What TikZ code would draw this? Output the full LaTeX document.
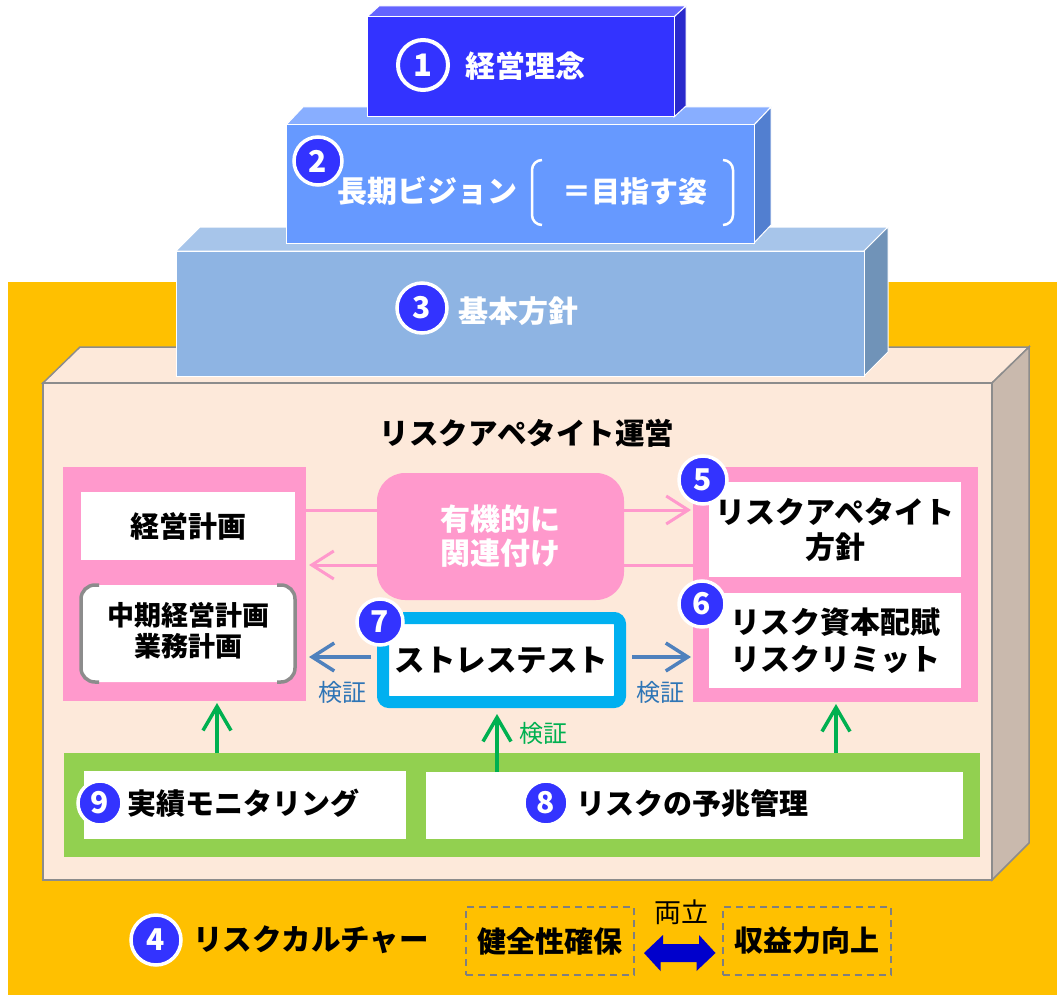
\documentclass[tikz,border=0pt]{standalone}
\usepackage{fontspec}
\setmainfont{Noto Sans CJK JP}
\usetikzlibrary{arrows.meta}
\definecolor{nblue}{HTML}{3333FF}
\definecolor{b1top}{HTML}{6464FF}
\definecolor{b1side}{HTML}{2929CC}
\definecolor{b2front}{HTML}{6699FF}
\definecolor{b2top}{HTML}{88AEFF}
\definecolor{b2side}{HTML}{527FD0}
\definecolor{b3front}{HTML}{8EB4E3}
\definecolor{b3top}{HTML}{A7C5EA}
\definecolor{b3side}{HTML}{7093B8}
\definecolor{orangebg}{HTML}{FFC000}
\definecolor{peach}{HTML}{FDE9DA}
\definecolor{peachside}{HTML}{C9B9AD}
\definecolor{edgegray}{HTML}{8C8C8C}
\definecolor{pinkc}{HTML}{FF99CC}
\definecolor{cyanc}{HTML}{00B0F0}
\definecolor{greenbox}{HTML}{92D050}
\definecolor{greenarr}{HTML}{00B050}
\definecolor{steel}{HTML}{4F81BD}
\definecolor{lblue}{HTML}{2E75B6}
\definecolor{dashgray}{HTML}{7F7F7F}
\definecolor{dblue}{HTML}{0000CC}
\begin{document}
\begin{tikzpicture}[x=1pt,y=-1pt,
  plain/.style={draw=none,inner sep=0pt,outer sep=0pt},
  wbox/.style={plain,fill=white},
  numc/.style={circle,fill=nblue,draw=white,line width=3.5pt,inner sep=0pt,minimum size=#1,text=white,font=\bfseries\fontsize{30}{30}\selectfont},
  jt/.style={inner sep=0pt,font=\bfseries\fontsize{30}{36}\selectfont,align=center},
  kensho/.style={inner sep=0pt,font=\fontsize{24}{24}\selectfont},
  pinkarr/.style={draw=pinkc,line width=3pt,-{Straight Barb[length=22pt,width=28pt,line width=3pt]}},
  bluearr/.style={draw=steel,line width=3.5pt,-{Straight Barb[length=22pt,width=28pt,line width=3.5pt]}},
  greenarrow/.style={draw=greenarr,line width=3.5pt,-{Straight Barb[length=24pt,width=28pt,line width=3.5pt]}},
  dbox/.style={draw=dashgray,line width=2pt,dash pattern=on 7pt off 5pt,inner sep=0pt,minimum width=168pt,minimum height=68pt,font=\bfseries\fontsize{29}{29}\selectfont},
  edge/.style={draw=white,line width=1pt}
]
\useasboundingbox (0,0) rectangle (1057,995);
\fill[white] (0,0) rectangle (1057,995);
\fill[orangebg] (8,282) rectangle (1057,995);

% big peach box
\filldraw[fill=peach,draw=edgegray,line width=1.5pt] (43,383) -- (80,347) -- (1029,347) -- (992,383) -- cycle;
\filldraw[fill=peachside,draw=edgegray,line width=1.5pt] (992,383) -- (1029,347) -- (1029,843) -- (992,880) -- cycle;
\filldraw[fill=peach,draw=edgegray,line width=1.5pt] (43,383) rectangle (992,880);

% block 3
\filldraw[fill=b3top,edge] (176,251) -- (200,227) -- (888,227) -- (864,251) -- cycle;
\filldraw[fill=b3side,edge] (864,251) -- (888,227) -- (888,352) -- (864,376) -- cycle;
\filldraw[fill=b3front,edge] (176,251) rectangle (864,376);
% block 2
\filldraw[fill=b2top,edge] (286,125) -- (303,107) -- (771,107) -- (754,125) -- cycle;
\filldraw[fill=b2side,edge] (754,125) -- (771,107) -- (771,225) -- (754,243) -- cycle;
\filldraw[fill=b2front,edge] (286,125) rectangle (754,243);
% block 1
\filldraw[fill=b1top,edge] (367,17) -- (379,6) -- (686,6) -- (674,17) -- cycle;
\filldraw[fill=b1side,edge] (674,17) -- (686,6) -- (686,106) -- (674,117) -- cycle;
\filldraw[fill=nblue,edge] (367,17) rectangle (674,117);

% block texts
\node[circle,draw=white,line width=4pt,minimum size=50pt,inner sep=0pt,text=white,font=\bfseries\fontsize{31}{31}\selectfont] (c1) at (423,65) {1};
\node[jt,text=white,anchor=west] (t1) at (465,66) {経営理念};
\node[numc=48pt] (c2) at (318,161) {2};
\node[jt,text=white,anchor=west] (t2) at (337,191) {長期ビジョン};
\node[plain,minimum width=201pt,minimum height=65pt] (br) at (632.5,192.5) {};
\draw[white,line width=2.5pt,rounded corners=10pt] ([xshift=10pt]br.north west) -- (br.north west) -- (br.south west) -- ([xshift=10pt]br.south west);
\draw[white,line width=2.5pt,rounded corners=10pt] ([xshift=-10pt]br.north east) -- (br.north east) -- (br.south east) -- ([xshift=-10pt]br.south east);
\node[jt,text=white,anchor=west,font=\bfseries\fontsize{29}{29}\selectfont] (t2b) at (562,191) {＝目指す姿};
\node[numc=50pt] (c3) at (422,308) {3};
\node[jt,text=white,anchor=west] (t3) at (458,311) {基本方針};

% title
\node[jt,font=\bfseries\fontsize{29.5}{29.5}\selectfont] (title) at (527,433) {リスクアペタイト運営};

% left pink group
\node[plain,fill=pinkc,minimum width=243pt,minimum height=234pt] (lp) at (184.5,584) {};
\node[wbox,minimum width=214pt,minimum height=68pt,jt,font=\bfseries\fontsize{29}{29}\selectfont] (kk) at (188,526) {経営計画};
\node[plain,fill=white,rounded corners=14pt,minimum width=214pt,minimum height=97pt] (ck) at (188,633.5) {};
\draw[edgegray,line width=3.5pt,rounded corners=14pt] ([xshift=18pt]ck.north west) -- (ck.north west) -- (ck.south west) -- ([xshift=18pt]ck.south west);
\draw[edgegray,line width=3.5pt,rounded corners=14pt] ([xshift=-18pt]ck.north east) -- (ck.north east) -- (ck.south east) -- ([xshift=-18pt]ck.south east);
\node[jt,font=\bfseries\fontsize{27}{31}\selectfont] (ckt) at (188,631) {中期経営計画\\業務計画};

% right pink group
\node[plain,fill=pinkc,minimum width=285pt,minimum height=235pt] (rp) at (835.5,584.5) {};
\node[wbox,minimum width=252pt,minimum height=95pt] (b5) at (835,529.5) {};
\node[jt,font=\bfseries\fontsize{30}{35}\selectfont] (t5) at (835,530) {リスクアペタイト\\方針};
\node[wbox,minimum width=252pt,minimum height=95pt] (b6) at (835,640.5) {};
\node[jt,font=\bfseries\fontsize{30}{37}\selectfont] (t6) at (835,641) {リスク資本配賦\\リスクリミット};
\node[numc=48pt] (c5) at (703,480) {5};
\node[numc=46pt] (c6) at (702,604) {6};

% pink connectors
\coordinate (ya) at (0,510);
\coordinate (yb) at (0,565);
\draw[pinkarr] (lp.east |- ya) -- ([xshift=-2pt]rp.west |- ya);
\draw[pinkarr] (rp.west |- yb) -- ([xshift=3pt]lp.east |- yb);

% organic box
\node[plain,fill=pinkc,rounded corners=28pt,minimum width=247pt,minimum height=127pt,jt,text=white,font=\bfseries\fontsize{30}{34}\selectfont] (og) at (500.5,536.5) {有機的に\\関連付け};

% stress test
\node[draw=cyanc,fill=white,line width=12pt,rounded corners=6pt,minimum width=237pt,minimum height=84pt,inner sep=0pt,font=\bfseries\fontsize{30.5}{30.5}\selectfont] (st) at (501.5,660) {ストレステスト};
\node[numc=46pt] (c7) at (380,622) {7};

% blue connectors
\coordinate (yc) at (0,657);
\draw[bluearr] ([xshift=-6pt]st.west |- yc) -- ([xshift=3pt]lp.east |- yc);
\draw[bluearr] ([xshift=6pt]st.east |- yc) -- ([xshift=-2pt]rp.west |- yc);
\node[kensho,text=lblue] (k1) at (342,692) {検証};
\node[kensho,text=lblue] (k2) at (660,692) {検証};

% green group
\node[plain,fill=greenbox,minimum width=916pt,minimum height=104pt] (gr) at (522,805) {};
\node[wbox,minimum width=322pt,minimum height=68pt] (b9) at (245,805) {};
\node[wbox,minimum width=537pt,minimum height=67pt] (b8) at (694.5,805.5) {};
\node[numc=44pt] (c9) at (100,803) {9};
\node[jt,anchor=west,font=\bfseries\fontsize{29}{29}\selectfont] (t9) at (127,803) {実績モニタリング};
\node[numc=44pt] (c8) at (546,803) {8};
\node[jt,anchor=west,font=\bfseries\fontsize{29}{29}\selectfont] (t8) at (576,803) {リスクの予兆管理};

% green connectors
\coordinate (xa) at (217,0);
\coordinate (xb) at (497,0);
\coordinate (xc) at (836,0);
\draw[greenarrow] (gr.north -| xa) -- ([yshift=-2pt]lp.south -| xa);
\draw[greenarrow] (b8.north -| xb) -- ([yshift=-6pt]st.south -| xb);
\draw[greenarrow] (gr.north -| xc) -- ([yshift=-2pt]rp.south -| xc);
\node[kensho,text=greenarr] (k3) at (543,733) {検証};

% risk culture
\node[numc=50pt] (c4) at (156,940) {4};
\node[jt,anchor=west,font=\bfseries\fontsize{29.5}{29.5}\selectfont] (t4) at (193,940) {リスクカルチャー};
\node[dbox] (kz) at (550,941) {健全性確保};
\node[dbox] (sy) at (806.5,941) {収益力向上};
\coordinate (yd) at (0,953);
\fill[dblue] ([xshift=9pt]kz.east |- yd) -- ++(19,-18) -- ++(0,9) -- ++(36,0) -- ++(0,-9) -- ([xshift=-6pt]sy.west |- yd) -- ++(-19,18) -- ++(0,-9) -- ++(-36,0) -- ++(0,9) -- cycle;
\node[inner sep=0pt,font=\fontsize{27}{27}\selectfont] (ry) at (681,912) {両立};
\end{tikzpicture}
\end{document}
